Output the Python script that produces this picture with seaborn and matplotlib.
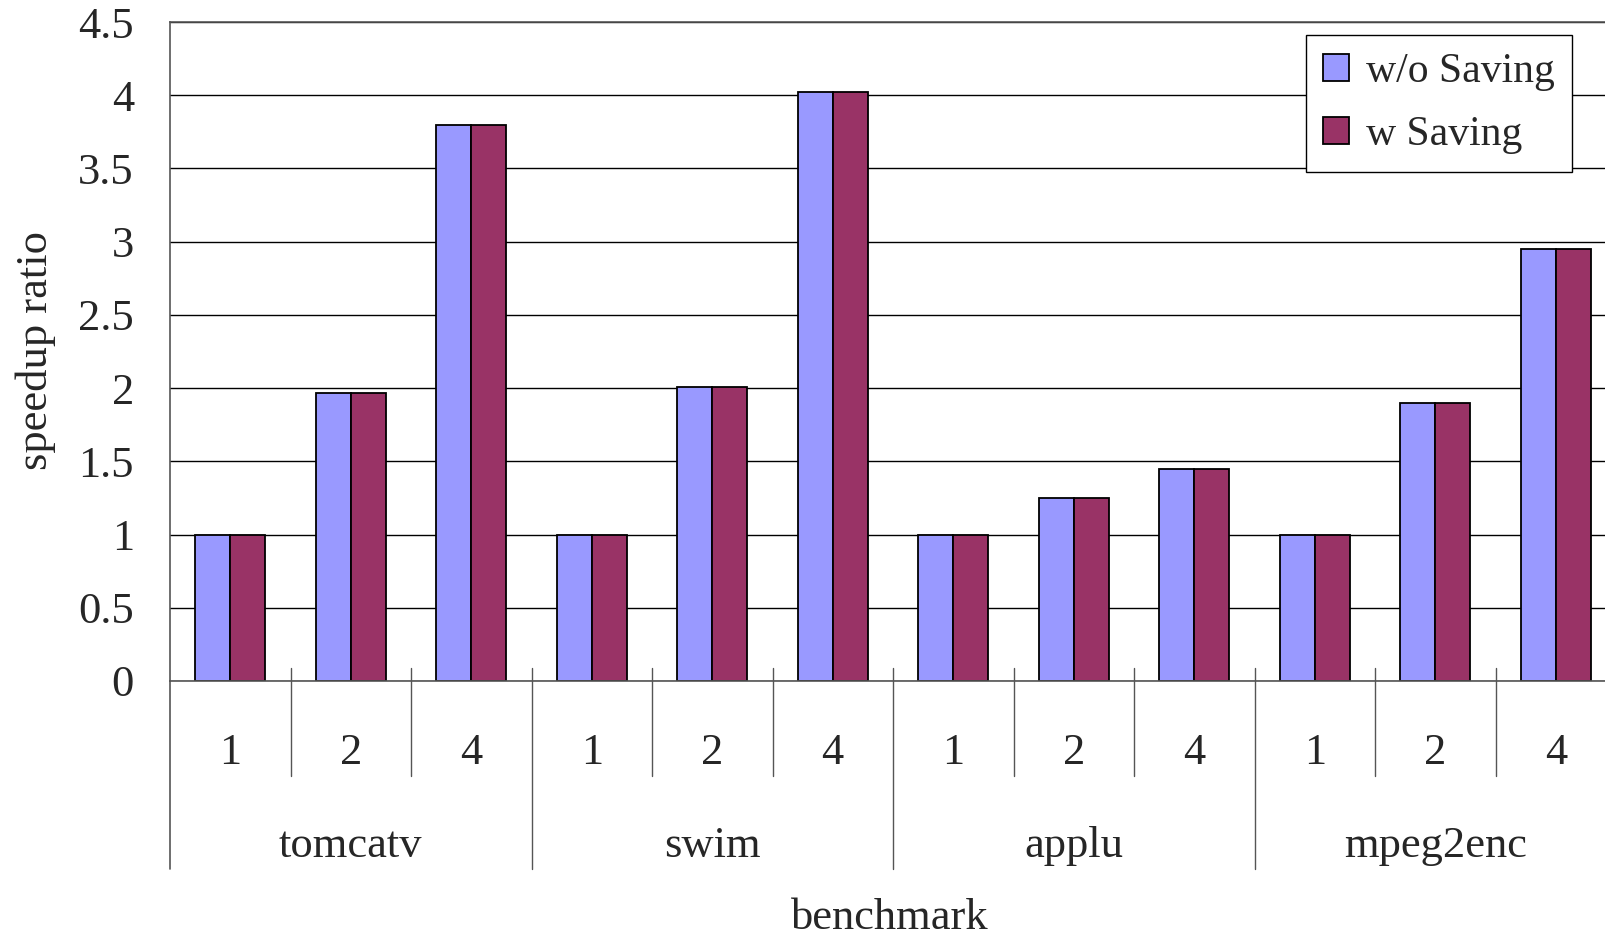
import matplotlib
matplotlib.use("Agg")
import matplotlib.pyplot as plt
import matplotlib.transforms as mtransforms
import seaborn as sns
import pandas as pd

benchmarks = ["tomcatv", "swim", "applu", "mpeg2enc"]
threads = ["1", "2", "4"]
series = ["w/o Saving", "w Saving"]
wo_saving = [1.0, 1.97, 3.80, 1.0, 2.01, 4.02, 1.0, 1.25, 1.45, 1.0, 1.90, 2.95]
w_saving = [1.0, 1.97, 3.80, 1.0, 2.01, 4.02, 1.0, 1.25, 1.45, 1.0, 1.90, 2.95]
yticks = [0, 0.5, 1, 1.5, 2, 2.5, 3, 3.5, 4, 4.5]
ytick_labels = ["0", "0.5", "1", "1.5", "2", "2.5", "3", "3.5", "4", "4.5"]
colors = ["#9999FF", "#993366"]

cats = [f"{b}-{t}" for b in benchmarks for t in threads]
df = pd.DataFrame({
    "cat": cats * 2,
    "val": wo_saving + w_saving,
    "series": [series[0]] * len(cats) + [series[1]] * len(cats),
})

sns.set_style("white")
plt.rcParams["font.family"] = ["Liberation Serif", "DejaVu Serif"]

W, H = 1605, 941
fig = plt.figure(figsize=(W / 100, H / 100), dpi=100)
left, right, top, bottom = 170, 1616, 22, 681
ax = fig.add_axes([left / W, 1 - bottom / H, (right - left) / W, (bottom - top) / H])

sns.barplot(data=df, x="cat", y="val", hue="series", order=cats, hue_order=series,
            palette=colors, width=0.58, edgecolor="black", linewidth=1.3,
            saturation=1, ax=ax, legend=True)

ax.set_ylim(0, 4.5)
ax.set_xlim(-0.5, len(cats) - 0.5)
ax.set_yticks(yticks)
ax.set_yticklabels(ytick_labels, fontsize=32)
ax.tick_params(axis="y", length=0, pad=26)
ax.set_xticks([])
ax.set_xlabel("")
ax.set_ylabel("")
fig.text(36 / W, 1 - 350 / H, "speedup ratio", rotation=90, ha="center", va="center",
         fontsize=32)
ax.yaxis.grid(True, color="black", lw=1.0)
ax.set_axisbelow(True)
for s in ["left", "top", "bottom"]:
    ax.spines[s].set_visible(True)
    ax.spines[s].set_color("#555555")
    ax.spines[s].set_linewidth(1.2)
ax.spines["right"].set_visible(False)

trans = mtransforms.blended_transform_factory(ax.transData, ax.transAxes)
ax_h = bottom - top
def ay(py):
    return (bottom - py) / ax_h

# thread labels and separators
for i, c in enumerate(cats):
    ax.text(i, ay(753), c.split("-")[1], transform=trans, ha="center", va="center",
            fontsize=32, clip_on=False)
for k in range(1, len(cats)):
    if k % 3 == 0:
        ax.plot([k - 0.5, k - 0.5], [ay(668), ay(869)], transform=trans, color="#555555",
                lw=1.0, clip_on=False)
    else:
        ax.plot([k - 0.5, k - 0.5], [ay(668), ay(776)], transform=trans, color="#555555",
                lw=1.0, clip_on=False)
ax.plot([-0.5, -0.5], [0, ay(869)], transform=trans, color="#555555", lw=1.2, clip_on=False)
for g, b in enumerate(benchmarks):
    ax.text(g * 3 + 1, ay(846), b, transform=trans, ha="center", va="center",
            fontsize=32, clip_on=False)
fig.text((left + 3 * 120.5 * 2 - 3) / W, 1 - 918 / H, "benchmark", ha="center", va="center",
         fontsize=32)

leg = ax.legend(loc="upper right", bbox_to_anchor=(1572 / W, 1 - 35 / H),
                bbox_transform=fig.transFigure, fontsize=30, frameon=True,
                fancybox=False, edgecolor="black", framealpha=1, borderaxespad=0,
                handlelength=0.62, handleheight=0.62, handletextpad=0.4,
                borderpad=0.42, labelspacing=0.6)
leg.get_frame().set_linewidth(1.0)

fig.savefig("out.png", dpi=100)
